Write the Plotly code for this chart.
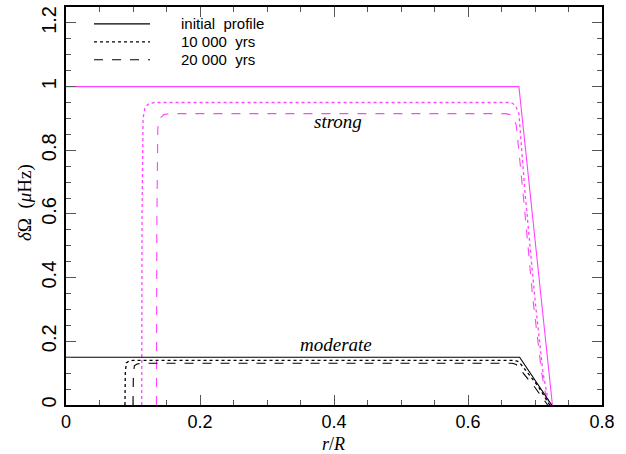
import plotly.graph_objects as go

# Rotation-rate perturbation profiles delta-Omega(r) for two initial amplitudes
# r/R sample points and delta-Omega (muHz) values

# strong case
strong_init_r = [0.0, 0.676, 0.726]
strong_init_w = [1.0, 1.0, 0.0]

strong_10k_r = [0.113, 0.1135, 0.115, 0.118, 0.124, 0.132, 0.660, 0.667, 0.672, 0.676, 0.685, 0.700, 0.712, 0.720, 0.724]
strong_10k_w = [0.0, 0.60, 0.90, 0.935, 0.947, 0.950, 0.950, 0.947, 0.935, 0.915, 0.67, 0.33, 0.10, 0.01, 0.0]

strong_20k_r = [0.135, 0.1355, 0.137, 0.140, 0.146, 0.154, 0.656, 0.663, 0.668, 0.672, 0.682, 0.697, 0.710, 0.718, 0.722]
strong_20k_w = [0.0, 0.55, 0.87, 0.90, 0.912, 0.915, 0.915, 0.912, 0.90, 0.88, 0.67, 0.33, 0.10, 0.01, 0.0]

# moderate case
mod_init_r = [0.0, 0.677, 0.725]
mod_init_w = [0.15, 0.15, 0.0]

mod_10k_r = [0.088, 0.0885, 0.090, 0.094, 0.100, 0.670, 0.676, 0.690, 0.705, 0.716, 0.722]
mod_10k_w = [0.0, 0.10, 0.132, 0.138, 0.140, 0.140, 0.136, 0.100, 0.058, 0.020, 0.0]

mod_20k_r = [0.100, 0.1005, 0.102, 0.106, 0.113, 0.666, 0.672, 0.686, 0.700, 0.712, 0.719]
mod_20k_w = [0.0, 0.090, 0.123, 0.129, 0.131, 0.131, 0.127, 0.092, 0.055, 0.020, 0.0]

x_ticks = [0, 0.2, 0.4, 0.6, 0.8]
x_tick_text = ["0", "0.2", "0.4", "0.6", "0.8"]
y_ticks = [0, 0.2, 0.4, 0.6, 0.8, 1.0, 1.2]
y_tick_text = ["0", "0.2", "0.4", "0.6", "0.8", "1", "1.2"]

legend_labels = ["initial  profile", "10 000  yrs", "20 000  yrs"]
legend_dashes = ["solid", "dot", "dash"]

MAGENTA = "#ff44ff"
BLACK = "#000000"
SANS = "Liberation Sans, Arial, sans-serif"
SERIF = "Liberation Serif, Times New Roman, serif"

fig = go.Figure()


def add_line(r, w, color, dash, width=1.1):
    fig.add_trace(go.Scatter(
        x=r, y=w, mode="lines", showlegend=False, hoverinfo="skip",
        line=dict(color=color, dash=dash, width=width, shape="linear"),
    ))


add_line(strong_init_r, strong_init_w, MAGENTA, "solid")
add_line(strong_10k_r, strong_10k_w, MAGENTA, "dot", 1.3)
add_line(strong_20k_r, strong_20k_w, MAGENTA, "dash")
add_line(mod_init_r, mod_init_w, BLACK, "solid")
add_line(mod_10k_r, mod_10k_w, BLACK, "dot", 1.3)
add_line(mod_20k_r, mod_20k_w, BLACK, "dash")

# hand-drawn legend in the upper-left corner
W, H = 626, 454
L, R, T, B = 66, 24, 5, 49
pw, ph = W - L - R, H - T - B


def px_to_paper(xp, yp):
    return (xp - L) / pw, (H - B - yp) / ph


legend_rows_y = [22, 40, 58]
for label, dash, yrow in zip(legend_labels, legend_dashes, legend_rows_y):
    x0, y0 = px_to_paper(94, yrow)
    x1, _ = px_to_paper(150, yrow)
    fig.add_shape(type="line", xref="paper", yref="paper",
                  x0=x0, x1=x1, y0=y0, y1=y0,
                  line=dict(color=BLACK, width=1.1 if dash != "dot" else 1.3, dash=dash))
    tx, ty = px_to_paper(179, yrow)
    fig.add_annotation(xref="paper", yref="paper", x=tx, y=ty, text=label,
                       showarrow=False, xanchor="left", yanchor="middle",
                       font=dict(family=SANS, size=15, color=BLACK))

# curve labels
fig.add_annotation(x=0.406, y=0.89, text="<i>strong</i>", showarrow=False,
                   xanchor="center", yanchor="middle",
                   font=dict(family=SERIF, size=19, color=BLACK))
fig.add_annotation(x=0.403, y=0.19, text="<i>moderate</i>", showarrow=False,
                   xanchor="center", yanchor="middle",
                   font=dict(family=SERIF, size=19, color=BLACK))

# axis titles
ax, ay = px_to_paper(333, 444)
fig.add_annotation(xref="paper", yref="paper", x=ax, y=ay, text="<i>r</i>/<i>R</i>",
                   showarrow=False, xanchor="center", yanchor="middle",
                   font=dict(family=SERIF, size=18, color=BLACK))
bx, by = px_to_paper(25, 202)
fig.add_annotation(xref="paper", yref="paper", x=bx, y=by,
                   text="<i>δ</i>Ω  (<i>μ</i>Hz)", textangle=-90,
                   showarrow=False, xanchor="center", yanchor="middle",
                   font=dict(family=SERIF, size=19, color=BLACK))

axis_common = dict(
    showgrid=False, zeroline=False,
    showline=True, linecolor=BLACK, linewidth=1.5, mirror="allticks",
    ticks="inside", ticklen=10, tickwidth=1.2, tickcolor="#555555",
)

fig.update_xaxes(range=[0, 0.8], tickvals=x_ticks, ticktext=x_tick_text,
                 tickfont=dict(family=SANS, size=18, color=BLACK),
                 minor=dict(ticks="inside", dtick=0.05, ticklen=5, tickwidth=1.2,
                            tickcolor="#555555", showgrid=False),
                 ticklabelstandoff=0, **axis_common)
fig.update_yaxes(range=[0, 1.25], tickvals=y_ticks, ticktext=y_tick_text,
                 tickangle=-90,
                 tickfont=dict(family=SANS, size=20, color=BLACK),
                 minor=dict(ticks="inside", dtick=0.05, ticklen=5, tickwidth=1.2,
                            tickcolor="#555555", showgrid=False),
                 ticklabelstandoff=0, **axis_common)

fig.update_layout(
    width=W, height=H,
    margin=dict(l=L, r=R, t=T, b=B),
    plot_bgcolor="white", paper_bgcolor="white",
    showlegend=False,
)

fig.write_html("out.html")
